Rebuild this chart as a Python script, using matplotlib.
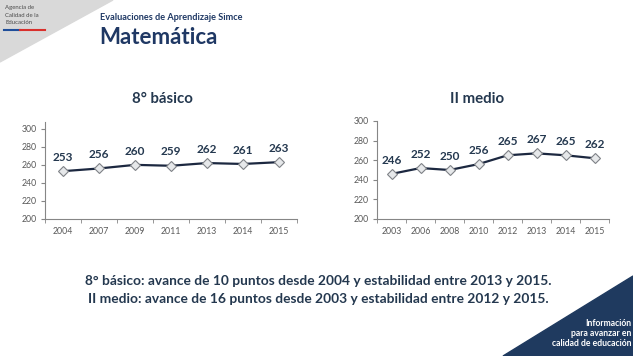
import matplotlib.pyplot as plt
from matplotlib.patches import Polygon

plt.rcParams['font.family'] = ['Lato', 'DejaVu Sans']

# data
years_8b = ['2004', '2007', '2009', '2011', '2013', '2014', '2015']
scores_8b = [253, 256, 260, 259, 262, 261, 263]
years_2m = ['2003', '2006', '2008', '2010', '2012', '2013', '2014', '2015']
scores_2m = [246, 252, 250, 256, 265, 267, 265, 262]
y_ticks = [200, 220, 240, 260, 280, 300]

navy = '#1f3864'
label_col = '#24384f'
W, H = 633, 356

fig = plt.figure(figsize=(W / 100, H / 100), dpi=100)
fig.patch.set_facecolor('white')


def px_axes(x0, y0, x1, y1):
    # pixel box (top-left origin) -> figure fraction
    return fig.add_axes([x0 / W, 1 - y1 / H, (x1 - x0) / W, (y1 - y0) / H])


def line_chart(ax, years, scores, ymax):
    idx = list(range(len(years)))
    ax.plot(idx, scores, color='#1c2840', lw=1.6, marker='D', ms=5,
            mfc='#e6e8ea', mec='#7f8287', mew=0.8, zorder=3)
    for i, v in zip(idx, scores):
        ax.annotate(str(v), (i, v), xytext=(0, 6), textcoords='offset points',
                    ha='center', va='bottom', fontsize=8.5, fontweight='bold',
                    color=label_col)
    ax.set_xlim(-0.5, len(years) - 0.5)
    ax.set_ylim(200, ymax)
    ax.set_yticks(y_ticks)
    ax.set_xticks(idx)
    ax.set_xticklabels(years)
    ax.set_xticks([i + 0.5 for i in [-1] + idx], minor=True)
    ax.tick_params(axis='x', which='major', length=0, pad=6, labelsize=6.3,
                   labelcolor='#595959')
    ax.tick_params(axis='x', which='minor', length=3, color='#868686')
    ax.tick_params(axis='y', length=3, color='#868686', labelsize=6.3,
                   labelcolor='#595959', pad=3)
    for s in ['top', 'right']:
        ax.spines[s].set_visible(False)
    for s in ['left', 'bottom']:
        ax.spines[s].set_color('#868686')
        ax.spines[s].set_linewidth(0.8)
    ax.set_facecolor('none')


ax1 = px_axes(45, 122, 297, 219)
line_chart(ax1, years_8b, scores_8b, 307.5)
ax2 = px_axes(377, 121, 609, 219)
line_chart(ax2, years_2m, scores_2m, 300)

fig.text(162 / W, 1 - 99 / H, '8° básico', ha='center', va='center',
         fontsize=10.8, fontweight='bold', color=label_col)
fig.text(477 / W, 1 - 99 / H, 'II medio', ha='center', va='center',
         fontsize=10.8, fontweight='bold', color=label_col)

# header
fig.patches.append(Polygon([[0, 1], [113 / W, 1], [0, 1 - 62 / H]],
                           closed=True, transform=fig.transFigure,
                           color='#d9d9d9', zorder=0))
for k, t in enumerate(['Agencia de', 'Calidad de la', 'Educación']):
    fig.text(5 / W, 1 - (8 + 7.3 * k) / H, t, fontsize=4.3, color='#4a4a4a',
             va='center')
fig.add_artist(plt.Line2D([4 / W, 20 / W], [1 - 29.5 / H] * 2, color='#1f4e9a',
                          lw=1.5, transform=fig.transFigure))
fig.add_artist(plt.Line2D([20 / W, 45 / W], [1 - 29.5 / H] * 2, color='#d9302c',
                          lw=1.5, transform=fig.transFigure))
fig.text(100 / W, 1 - 17 / H, 'Evaluaciones de Aprendizaje Simce', fontsize=6.6,
         color=navy, va='center', fontweight='bold')
fig.text(99 / W, 1 - 38 / H, 'Matemática', fontsize=16, color=navy,
         va='center', fontweight='bold')

# bottom text
fig.text(318 / W, 1 - 281 / H,
         '8° básico: avance de 10 puntos desde 2004 y estabilidad entre 2013 y 2015.',
         ha='center', va='center', fontsize=9.9, fontweight='bold', color=label_col)
fig.text(318 / W, 1 - 299 / H,
         'II medio: avance de 16 puntos desde 2003 y estabilidad entre 2012 y 2015.',
         ha='center', va='center', fontsize=9.9, fontweight='bold', color=label_col)

# bottom-right corner
fig.patches.append(Polygon([[503 / W, 0], [1, 1 - 276 / H], [1, 0]],
                           closed=True, transform=fig.transFigure,
                           color='#1f3a5f', zorder=0))
for k, t in enumerate(['Información', 'para avanzar en', 'calidad de educación']):
    fig.text(631 / W, 1 - (323 + 10 * k) / H, t, ha='right', va='center',
             fontsize=6.2, color='white', fontweight='bold')

fig.savefig('out.png', dpi=100)
